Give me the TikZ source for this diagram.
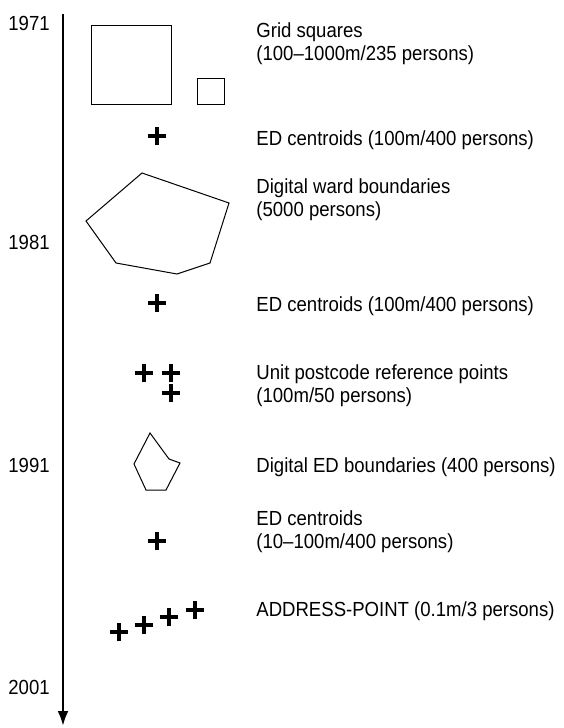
\documentclass[tikz,border=0pt]{standalone}
\usepackage{fontspec}
\setmainfont{Liberation Sans}[FakeStretch=0.91]
\usepackage{tikz}
\usetikzlibrary{arrows.meta, shapes.misc}

\begin{document}
\begin{tikzpicture}[
    x=0.5pt, y=-0.5pt,
    txt/.style={
        anchor=base west, align=left, inner sep=0pt,
        font=\fontsize{10.2}{11.5}\selectfont,
    },
    year/.style={txt},
    outline/.style={draw=black, line width=0.5pt},
    centroid/.style={draw=black, cross out, rotate=45, line width=1.8pt,
        minimum size=4.8pt, inner sep=0pt},
    axis/.style={-{Latex[length=7.5pt, width=5.5pt]}, line width=1.3pt},
]
\useasboundingbox (0,0) rectangle (563,728);

% TIME AXIS
\coordinate (t0) at (63, 14);
\coordinate (t1) at (63, 726);
\draw[axis] (t0) -- (t1);

\node[year] (y71) at (8, 30) {1971};
\node[year] (y81) at (8, 249) {1981};
\node[year] (y91) at (8, 472) {1991};
\node[year] (y01) at (8, 694) {2001};

% GRID SQUARES (base = last line)
\draw[outline] (91, 25) rectangle (171, 104);
\draw[outline] (197, 78) rectangle (224, 104);
\node[txt] (grid) at (256, 60) {Grid squares\\(100--1000m/235 persons)};

% ED CENTROIDS 1971
\node[centroid] (ed71) at (157, 136) {};
\node[txt] (ed71txt) at (256, 145) {ED centroids (100m/400 persons)};

% WARD BOUNDARIES
\draw[outline] (142, 173) -- (229, 203) -- (210, 263) -- (177, 274)
    -- (116, 263) -- (86, 221) -- cycle;
\node[txt] (ward) at (256, 216) {Digital ward boundaries\\(5000 persons)};

% ED CENTROIDS 1981
\node[centroid] (ed81) at (157, 303) {};
\node[txt] (ed81txt) at (256, 311) {ED centroids (100m/400 persons)};

% UNIT POSTCODES
\node[centroid] (pc1) at (144, 373) {};
\node[centroid] (pc2) at (171, 373) {};
\node[centroid] (pc3) at (171, 393) {};
\node[txt] (pctxt) at (256, 402) {Unit postcode reference points\\(100m/50 persons)};

% ED BOUNDARIES
\draw[outline] (150, 433) -- (169, 459) -- (180, 463) -- (166, 490)
    -- (146, 490) -- (134, 464) -- cycle;
\node[txt] (edb) at (256, 472) {Digital ED boundaries (400 persons)};

% ED CENTROIDS 1991
\node[centroid] (ed91) at (157, 541) {};
\node[txt] (ed91txt) at (256, 548) {ED centroids\\(10--100m/400 persons)};

% ADDRESS-POINT
\node[centroid] (ap1) at (119, 632) {};
\node[centroid] (ap2) at (144, 625) {};
\node[centroid] (ap3) at (169, 617) {};
\node[centroid] (ap4) at (195, 610) {};
\node[txt] (aptxt) at (256, 616) {ADDRESS-POINT (0.1m/3 persons)};

\end{tikzpicture}
\end{document}
